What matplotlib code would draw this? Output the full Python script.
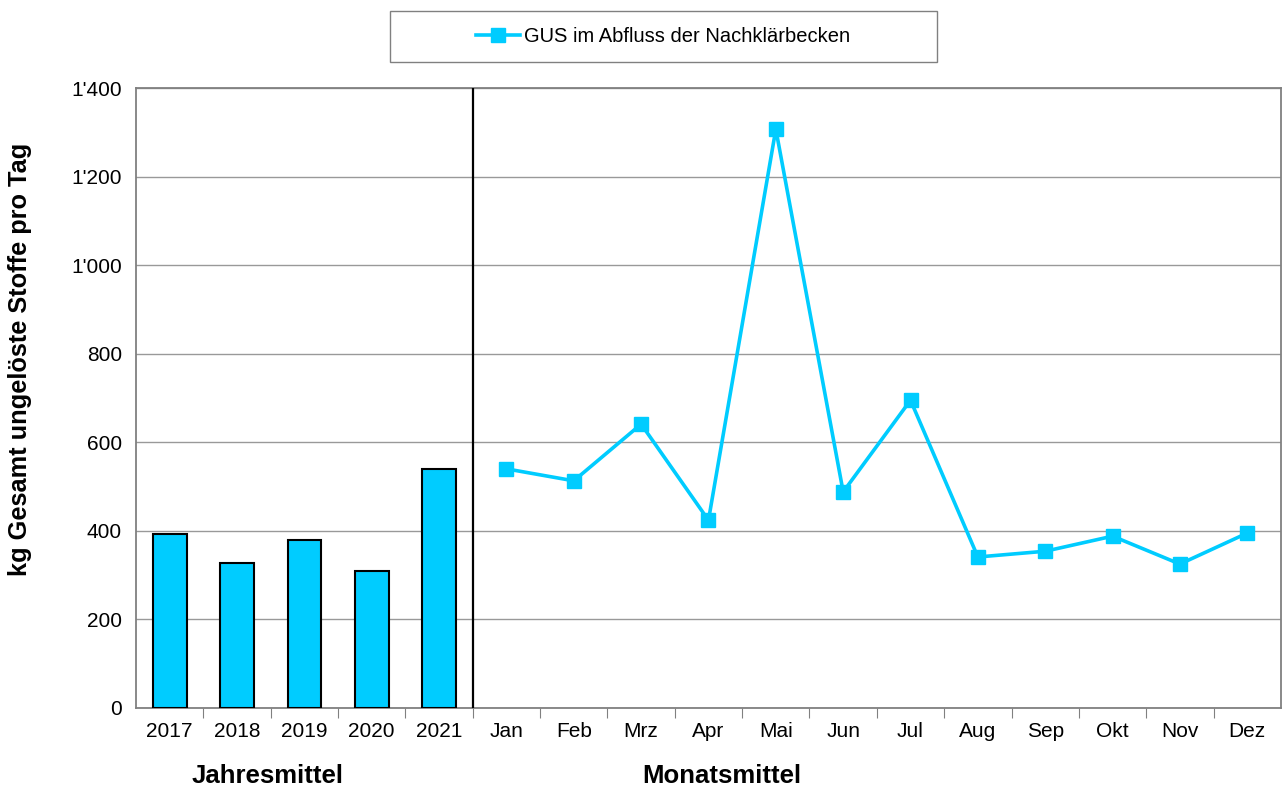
import matplotlib as mpl
mpl.use('Agg')
import matplotlib.pyplot as plt
from matplotlib.patches import Rectangle
from matplotlib.ticker import FuncFormatter

jahre = ['2017', '2018', '2019', '2020', '2021']
jahres_werte = [393, 327, 379, 309, 540]

monate = ['Jan', 'Feb', 'Mrz', 'Apr', 'Mai', 'Jun', 'Jul', 'Aug', 'Sep', 'Okt', 'Nov', 'Dez']
monats_werte = [540, 513, 641, 424, 1307, 488, 695, 341, 354, 388, 325, 395]

plt.rcParams['font.family'] = ['Liberation Sans', 'DejaVu Sans']
farbe = '#00CCFF'

fig = plt.figure(figsize=(12.83, 7.9), dpi=100)
ax = fig.add_axes([0.106, 0.1038, 0.8924, 0.7848])

xb = list(range(len(jahre)))
xm = [len(jahre) + i for i in range(len(monate))]

ax.bar(xb, jahres_werte, width=0.5, color=farbe, edgecolor='black', linewidth=1.5, zorder=3)
ln, = ax.plot(xm, monats_werte, color=farbe, lw=2.6, marker='s', markersize=10, zorder=4,
              label='GUS im Abfluss der Nachklärbecken')
ax.axvline(len(jahre) - 0.5, color='black', lw=1.6, zorder=5)

ax.set_xlim(-0.5, len(jahre) + len(monate) - 0.5)
ax.set_ylim(0, 1400)
ax.set_yticks(range(0, 1401, 200))
ax.yaxis.set_major_formatter(FuncFormatter(lambda v, p: f"{int(v):,}".replace(',', "'")))
ax.yaxis.grid(True, color='#999999', lw=1, zorder=0)

ax.set_xticks([x - 0.5 for x in range(1, len(jahre) + len(monate))])
ax.set_xticklabels([])
ax.set_xticks(xb + xm, minor=True)
ax.set_xticklabels(jahre + monate, minor=True)
ax.tick_params(axis='x', which='major', length=7, color='#808080', direction='out')
ax.tick_params(axis='x', which='minor', length=0, labelsize=15, pad=10)
ax.tick_params(axis='y', length=0, labelsize=15, pad=10)
for s in ax.spines.values():
    s.set_color('#808080')
    s.set_linewidth(1.3)

fig.text(0.0156, 0.5456, 'kg Gesamt ungelöste Stoffe pro Tag', rotation=90, ha='center', va='center',
         fontsize=18.3, fontweight='bold')

ax.text(1.46, -0.11, 'Jahresmittel', transform=ax.get_xaxis_transform(), ha='center', va='center',
        fontsize=18.5, fontweight='bold')
ax.text(8.2, -0.11, 'Monatsmittel', transform=ax.get_xaxis_transform(), ha='center', va='center',
        fontsize=18.5, fontweight='bold')

# Legendenrahmen wie im Original (breit)
fig.patches.append(Rectangle((390 / 1283, 1 - 62 / 790), 547 / 1283, 51 / 790,
                             transform=fig.transFigure, fill=False, edgecolor='#808080', lw=1.0))
fig.legend(handles=[ln], loc='center', bbox_to_anchor=(0.5168, 0.9538), fontsize=14.5,
           frameon=False, handlelength=2.2, handletextpad=0.2)

fig.savefig('out.png', dpi=100)
